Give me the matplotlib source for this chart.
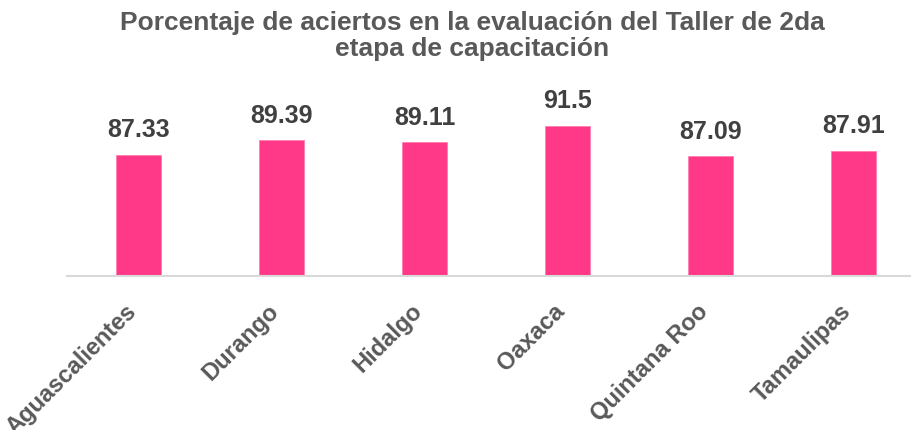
import matplotlib
matplotlib.use("Agg")
import matplotlib.pyplot as plt
import matplotlib.transforms as mtransforms

plt.rcParams['font.family'] = ['Liberation Sans', 'DejaVu Sans']

# --- datos ---
estados = ['Aguascalientes', 'Durango', 'Hidalgo', 'Oaxaca', 'Quintana Roo', 'Tamaulipas']
aciertos = [87.33, 89.39, 89.11, 91.5, 87.09, 87.91]
etiquetas = ['87.33', '89.39', '89.11', '91.5', '87.09', '87.91']

fig = plt.figure(figsize=(9.12, 4.30), dpi=100)
ax = fig.add_axes([67 / 912, (430 - 276) / 430, (912 - 67) / 912, 210 / 430])

x = range(len(estados))
ax.bar(x, aciertos, width=0.315, color='#FF3888', edgecolor='#FF80B0', linewidth=0.6, zorder=2)

ax.set_ylim(70, 100)
ax.set_xlim(-0.5, 5.41)

for xi, v, t in zip(x, aciertos, etiquetas):
    ax.annotate(t, (xi, v), xytext=(0, 9), textcoords='offset points',
                ha='center', va='bottom', fontsize=18, fontweight='bold', color='#404040')

for s in ['top', 'right', 'left']:
    ax.spines[s].set_visible(False)
ax.spines['bottom'].set_color('#D9D9D9')
ax.spines['bottom'].set_linewidth(1.5)
ax.set_yticks([])
ax.set_xticks(list(x))
ax.set_xticklabels(estados, rotation=45, ha='right', va='center', rotation_mode='anchor',
                   fontsize=17, fontweight='bold', color='#595959')
ax.tick_params(axis='x', length=0, pad=23)

# pequeño desplazamiento a la izquierda de las etiquetas
desplaza = mtransforms.ScaledTranslation(-6 / 100, 0, fig.dpi_scale_trans)
for lbl in ax.get_xticklabels():
    lbl.set_transform(lbl.get_transform() + desplaza)

fig.text(0.518, 0.975, 'Porcentaje de aciertos en la evaluación del Taller de 2da\netapa de capacitación',
         ha='center', va='top', fontsize=19, fontweight='bold', color='#595959', linespacing=1.1)

fig.savefig('out.png', dpi=100)
